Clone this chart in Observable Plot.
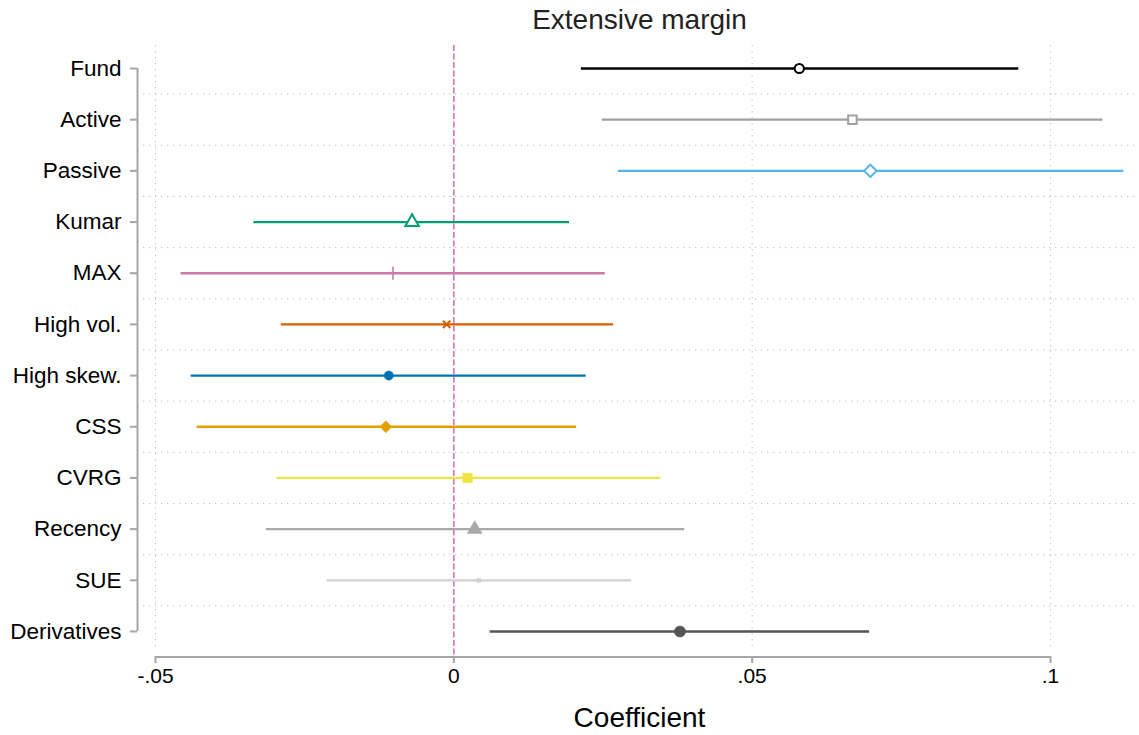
<!DOCTYPE html>
<html>
<head>
<meta charset="utf-8">
<script src="https://cdn.jsdelivr.net/npm/d3@7"></script>
<script src="https://cdn.jsdelivr.net/npm/@observablehq/plot@0.6"></script>
<style>
  html, body { margin: 0; padding: 0; background: #fff; }
  svg { font-family: "Liberation Sans", Arial, sans-serif; }
</style>
</head>
<body>
<div id="chart"></div>
<script>
// ---- data ----
const labels = ["Fund", "Active", "Passive", "Kumar", "MAX", "High vol.", "High skew.", "CSS", "CVRG", "Recency", "SUE", "Derivatives"];
const estimates = [0.0579, 0.0668, 0.0698, -0.0070, -0.0102, -0.0012, -0.0109, -0.0114, 0.0023, 0.0035, 0.0042, 0.0379];
const lower = [0.0213, 0.0248, 0.0275, -0.0336, -0.0458, -0.0290, -0.0441, -0.0431, -0.0297, -0.0315, -0.0213, 0.0060];
const upper = [0.0946, 0.1087, 0.1122, 0.0193, 0.0253, 0.0267, 0.0221, 0.0205, 0.0346, 0.0386, 0.0297, 0.0696];
const xTicks = [-0.05, 0, 0.05, 0.1];
const xTickLabels = ["-.05", "0", ".05", ".1"];

// ---- styles ----
const palette = ["#000000", "#a0a0a0", "#56b4e9", "#009e73", "#cc79a7", "#d55e00", "#0072b2", "#e69f00", "#f0e442", "#a9a9a9", "#d0d0d0", "#555555"];
const markers = [
  {symbol: "circle", r: 4.6, hollow: true},
  {symbol: "square", r: 4.8, hollow: true},
  {symbol: "diamond2", r: 5.6, hollow: true},
  {symbol: "triangle", r: 5.0, hollow: true},
  {symbol: "plus", r: 4.2, hollow: true, sw: 1.6},
  {symbol: "times", r: 3.4, hollow: true, sw: 2},
  {symbol: "circle", r: 4.6},
  {symbol: "diamond2", r: 5.4},
  {symbol: "square", r: 5.4},
  {symbol: "triangle", r: 5.6},
  {symbol: "square", r: 2.2},
  {symbol: "circle", r: 5.6}
];

const rows = labels.map((label, i) => ({i, label, est: estimates[i], lo: lower[i], hi: upper[i]}));
const gridY = d3.range(labels.length - 1).map(i => i + 0.5);
const xScale = d3.scaleLinear().domain([-0.05, 0.1]).range([155, 1050]);
const yAxisX = xScale.invert(137);

const marks = [
  // horizontal dotted grid between rows
  Plot.ruleY(gridY, {x1: xScale.invert(143), x2: xScale.invert(1139), stroke: "#bdbdbd", strokeWidth: 1, strokeDasharray: "1.3,4.7"}),
  // vertical dotted grid
  Plot.ruleX(xTicks.filter(v => v !== 0), {y1: -0.45, y2: 11.38, stroke: "#bdbdbd", strokeWidth: 1, strokeDasharray: "1.3,4.7"}),
  // zero line
  Plot.ruleX([0], {y1: -0.45, y2: 11.5, stroke: "#d67cae", strokeWidth: 1.7, strokeDasharray: "6,2.5"}),
  // y axis line
  Plot.ruleX([yAxisX], {y1: 0, y2: labels.length - 1, stroke: "#a6a6a6", strokeWidth: 2}),
  // x axis line
  Plot.ruleY([11.5], {x1: xTicks[0], x2: xTicks[xTicks.length - 1], stroke: "#a6a6a6", strokeWidth: 2}),
  Plot.axisX({ticks: xTicks, tickFormat: (d, k) => xTickLabels[k], tickSize: 7, tickPadding: 5, stroke: "#a6a6a6", strokeWidth: 2, fontSize: 21, fill: "#000", label: null}),
  Plot.axisY({ticks: d3.range(labels.length), tickFormat: d => labels[d], tickSize: 7, tickPadding: 9, stroke: "#a6a6a6", strokeWidth: 2, fontSize: 22.5, fill: "#000", label: null}),
  // confidence intervals
  ...rows.map(d => Plot.link([d], {x1: "lo", x2: "hi", y1: "i", y2: "i", stroke: palette[d.i], strokeWidth: 2.3})),
  // point estimates
  ...rows.map(d => {
    const m = markers[d.i];
    return Plot.dot([d], {
      x: "est", y: "i", symbol: m.symbol, r: m.r,
      fill: m.hollow ? (m.symbol === "plus" || m.symbol === "times" ? "none" : "#fff") : palette[d.i],
      stroke: palette[d.i], strokeWidth: m.hollow ? (m.sw || 2) : 0.5
    });
  }),
  Plot.text(["Extensive margin"], {frameAnchor: "top", lineAnchor: "middle", dx: 1, dy: -25, fontSize: 28, fill: "#222"}),
  Plot.text(["Coefficient"], {frameAnchor: "bottom", lineAnchor: "middle", dx: 1, dy: 62, fontSize: 28, fill: "#000"})
];

const chart = Plot.plot({
  width: 1139,
  height: 735,
  marginTop: 45,
  marginBottom: 79,
  marginLeft: 137,
  marginRight: 0,
  x: {domain: [-0.05, 0.1], range: [155, 1050]},
  y: {domain: [0, labels.length - 1], range: [68, 631]},
  style: {fontFamily: "'Liberation Sans', Arial, sans-serif", background: "#fff", overflow: "visible"},
  marks
});
document.getElementById("chart").appendChild(chart);
</script>
</body>
</html>
